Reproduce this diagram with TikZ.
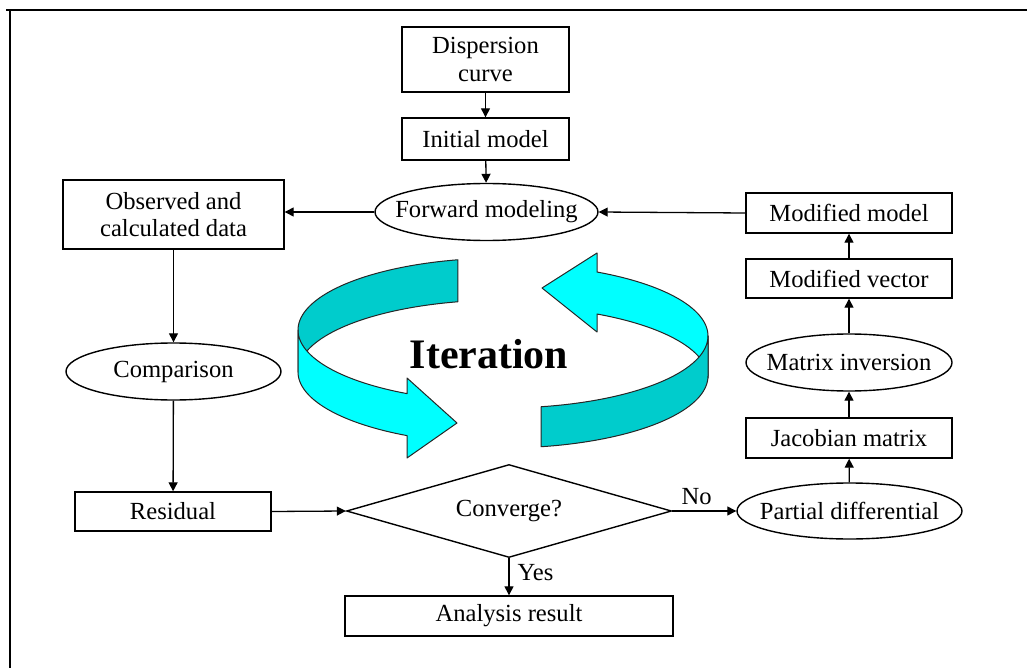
\documentclass[tikz,border=0pt]{standalone}
\usepackage{fontspec}
\setmainfont{Liberation Serif}
\usetikzlibrary{shapes.geometric,arrows.meta}
\definecolor{lcyan}{RGB}{0,255,255}
\definecolor{dcyan}{RGB}{0,204,204}
\newcommand\zw[1]{\makebox[0pt]{#1}}
\begin{document}
\begin{tikzpicture}[x=0.5pt,y=-0.5pt,
  every node/.style={font=\fontsize{12.3}{13.8}\selectfont, inner sep=0pt},
  box/.style={draw, line width=0.7pt, rectangle, align=center},
  oval/.style={draw, line width=0.7pt, ellipse},
  decide/.style={draw, line width=0.7pt, diamond},
  conn/.style={line width=0.65pt, -{Triangle[length=4.5pt,width=4.5pt]}},
  band/.style={draw=black!85, line width=0.5pt, line join=round}]
\useasboundingbox (0,0) rectangle (1027,668);
% frame
\draw[line width=1.2pt] (1027,10) -- (6,10);
\draw[line width=1.2pt] (10,10) -- (10,668);

% iteration ribbon arrows
% right arrow: back part (light)
\filldraw[band, fill=lcyan] plot[domain=360:297.3,samples=40] ({503+205*cos(\x)},{336+72*sin(\x)})
  -- (597,253) -- (542,288) -- (597,332)
  -- plot[domain=297.3:360,samples=40] ({503+205*cos(\x)},{378+72*sin(\x)}) -- cycle;
% right arrow: front part (dark)
\filldraw[band, fill=dcyan] plot[domain=79.3:0,samples=40] ({503+205*cos(\x)},{336+72*sin(\x)})
  -- plot[domain=0:79.3,samples=40] ({503+205*cos(\x)},{376+72*sin(\x)}) -- cycle;
% left arrow: back part (dark)
\filldraw[band, fill=dcyan] plot[domain=257.3:180,samples=40] ({503+205*cos(\x)},{330+72*sin(\x)})
  -- plot[domain=180:257.3,samples=40] ({503+205*cos(\x)},{372+72*sin(\x)}) -- cycle;
% left arrow: front part (light)
\filldraw[band, fill=lcyan] plot[domain=180:117.9,samples=40] ({503+205*cos(\x)},{330+72*sin(\x)})
  -- (407,378) -- (457,423) -- (407,458)
  -- plot[domain=117.9:180,samples=40] ({503+205*cos(\x)},{372+72*sin(\x)}) -- cycle;

\node[anchor=base, font=\fontsize{21}{24}\selectfont\bfseries] (iter) at (489,368) {Iteration};

% nodes
\node[box, minimum width=83.5pt, minimum height=32.5pt] (disp) at (485.5,59.5) {Dispersion\\curve};
\node[box, minimum width=83.5pt, minimum height=21pt] (init) at (485.5,139) {Initial model};
\node[oval, minimum width=111.5pt, minimum height=28.5pt] (fwd) at (486.5,212) {\zw{Forward modeling}};
\node[box, minimum width=110.5pt, minimum height=34.5pt] (obs) at (173.5,214.5) {Observed and\\calculated data};
\node[oval, minimum width=107.5pt, minimum height=28.5pt] (comp) at (173.5,371.5) {\zw{Comparison}};
\node[box, minimum width=98pt, minimum height=19.5pt] (resid) at (173,511.5) {Residual};
\node[decide, minimum width=162.5pt, minimum height=46.5pt] (conv) at (509,511) {\zw{Converge?}};
\node[box, minimum width=164pt, minimum height=20pt] (anal) at (509,616) {Analysis result};
\node[oval, minimum width=112.5pt, minimum height=28pt] (pd) at (849.5,511) {\zw{Partial differential}};
\node[box, minimum width=103pt, minimum height=20pt] (jac) at (849,438) {Jacobian matrix};
\node[oval, minimum width=103pt, minimum height=28.5pt] (mat) at (849,362.5) {\zw{Matrix inversion}};
\node[box, minimum width=103pt, minimum height=19.5pt] (mvec) at (849,278.5) {Modified vector};
\node[box, minimum width=103pt, minimum height=20pt] (mmod) at (849,213) {Modified model};

% connectors
\draw[conn] (disp) -- (init);
\draw[conn] (init) -- (fwd);
\draw[conn] (fwd.west) -- (fwd.west -| obs.east);
\draw[conn] (obs) -- (comp);
\draw[conn] (comp) -- (resid);
\draw[conn] (resid.east) -- (conv.west);
\draw[conn] (conv.south) -- (anal.north) node[pos=0.4, anchor=west, xshift=4pt] (yes) {Yes};
\draw[conn] (conv.east) -- (pd.west) node[pos=0.38, anchor=south, yshift=3pt] (no) {No};
\draw[conn] (pd) -- (jac);
\draw[conn] (jac) -- (mat);
\draw[conn] (mat) -- (mvec);
\draw[conn] (mvec) -- (mmod);
\draw[conn] (mmod.west) -- (fwd.east);
\end{tikzpicture}
\end{document}
